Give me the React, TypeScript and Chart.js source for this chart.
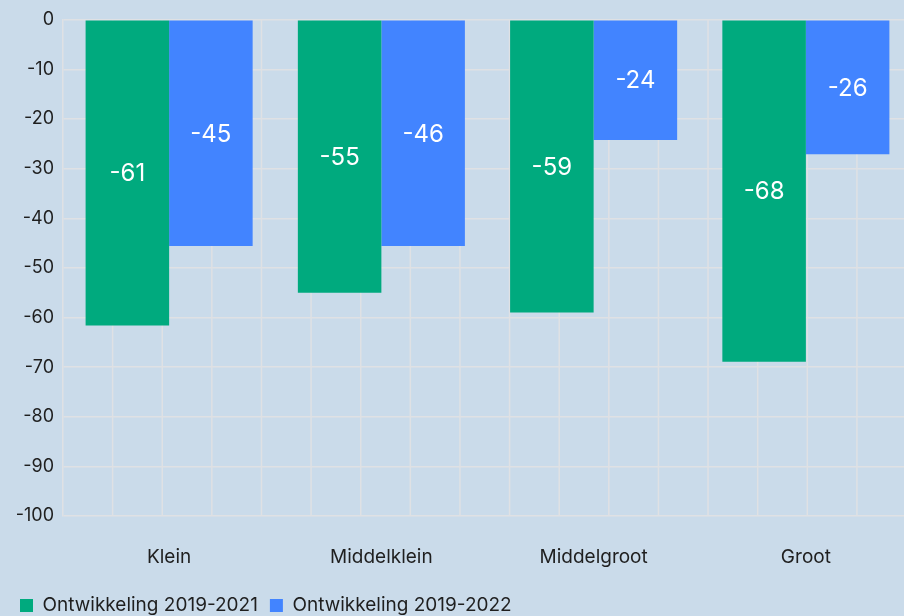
import React, { useEffect, useRef } from "react";
import { Chart, registerables } from "chart.js";

Chart.register(...registerables);

const categories = ["Klein", "Middelklein", "Middelgroot", "Groot"];
const series1Name = "Ontwikkeling 2019-2021";
const series2Name = "Ontwikkeling 2019-2022";
const series1Values = [-61.6, -55.0, -59.0, -68.9];
const series2Values = [-45.6, -45.6, -24.2, -27.1];
const series1Labels = ["-61", "-55", "-59", "-68"];
const series2Labels = ["-45", "-46", "-24", "-26"];
const yTicks = [0, -10, -20, -30, -40, -50, -60, -70, -80, -90, -100];

const GREEN = "#00aa7e";
const BLUE = "#4284ff";
const BG = "#cadbea";
const GRID = "#dfe1e4";
const TEXT = "#1f1f1f";
const FONT = "Inter, 'Noto Sans', sans-serif";

// square background grid: vertical lines spaced like the y-axis ticks
const squareGridPlugin = {
  id: "squareGrid",
  beforeDatasetsDraw(chart: any) {
    const { ctx, chartArea } = chart;
    const y = chart.scales.y;
    const step = Math.abs(y.getPixelForValue(-10) - y.getPixelForValue(0));
    ctx.save();
    ctx.strokeStyle = GRID;
    ctx.lineWidth = 1.5;
    ctx.beginPath();
    for (let x = chartArea.left + step; x <= chartArea.right + 1; x += step) {
      ctx.moveTo(x, chartArea.top);
      ctx.lineTo(x, chartArea.bottom);
    }
    ctx.stroke();
    ctx.restore();
  },
};

const valueLabelPlugin = {
  id: "valueLabels",
  afterDatasetsDraw(chart: any) {
    const ctx = chart.ctx;
    const labelSets = [series1Labels, series2Labels];
    ctx.save();
    ctx.fillStyle = "#ffffff";
    ctx.font = `400 24px ${FONT}`;
    ctx.textAlign = "center";
    ctx.textBaseline = "middle";
    chart.data.datasets.forEach((_ds: any, di: number) => {
      const meta = chart.getDatasetMeta(di);
      meta.data.forEach((el: any, i: number) => {
        const p = el.getProps(["x", "y", "base"], true);
        ctx.fillText(labelSets[di][i], p.x, (p.y + p.base) / 2 + 1);
      });
    });
    ctx.restore();
  },
};

export default function App() {
  const ref = useRef<HTMLCanvasElement | null>(null);

  useEffect(() => {
    document.body.style.margin = "0";
    document.body.style.overflow = "hidden";
    document.body.style.background = BG;
    const canvas = ref.current;
    if (!canvas) return;
    const chart = new Chart(canvas, {
      type: "bar",
      data: {
        labels: categories,
        datasets: [
          {
            label: series1Name,
            data: series1Values,
            backgroundColor: GREEN,
            borderWidth: 0,
          },
          {
            label: series2Name,
            data: series2Values,
            backgroundColor: BLUE,
            borderWidth: 0,
          },
        ],
      },
      options: {
        animation: false,
        responsive: true,
        maintainAspectRatio: false,
        layout: { padding: { left: 8, top: 17, right: 0, bottom: 0 } },
        plugins: {
          tooltip: { enabled: false },
          legend: {
            position: "bottom",
            align: "start",
            labels: {
              boxWidth: 13,
              boxHeight: 13,
              padding: 12,
              color: TEXT,
              font: { family: FONT, size: 19 },
            },
          },
        },
        datasets: {
          bar: { barPercentage: 1, categoryPercentage: 0.787 },
        } as any,
        scales: {
          x: {
            type: "category",
            position: "bottom",
            grid: { display: false, drawTicks: false },
            border: { display: false },
            ticks: {
              color: TEXT,
              padding: 30,
              font: { family: FONT, size: 19 },
              maxRotation: 0,
            },
            afterFit(scale: any) {
              scale.height = 68;
            },
          },
          y: {
            min: -100,
            max: 0,
            afterBuildTicks(scale: any) {
              scale.ticks = yTicks.map((v) => ({ value: v }));
            },
            grid: { color: GRID, lineWidth: 1.5, drawTicks: false },
            border: { display: true, color: GRID, width: 1.5 },
            ticks: {
              color: TEXT,
              padding: 9,
              font: { family: FONT, size: 18 },
            },
            afterFit(scale: any) {
              scale.width = 55;
            },
          },
        },
      } as any,
      plugins: [squareGridPlugin, valueLabelPlugin],
    });
    return () => chart.destroy();
  }, []);

  return (
    <div style={{ width: 912, height: 625, background: BG, position: "relative" }}>
      <canvas ref={ref} />
    </div>
  );
}
